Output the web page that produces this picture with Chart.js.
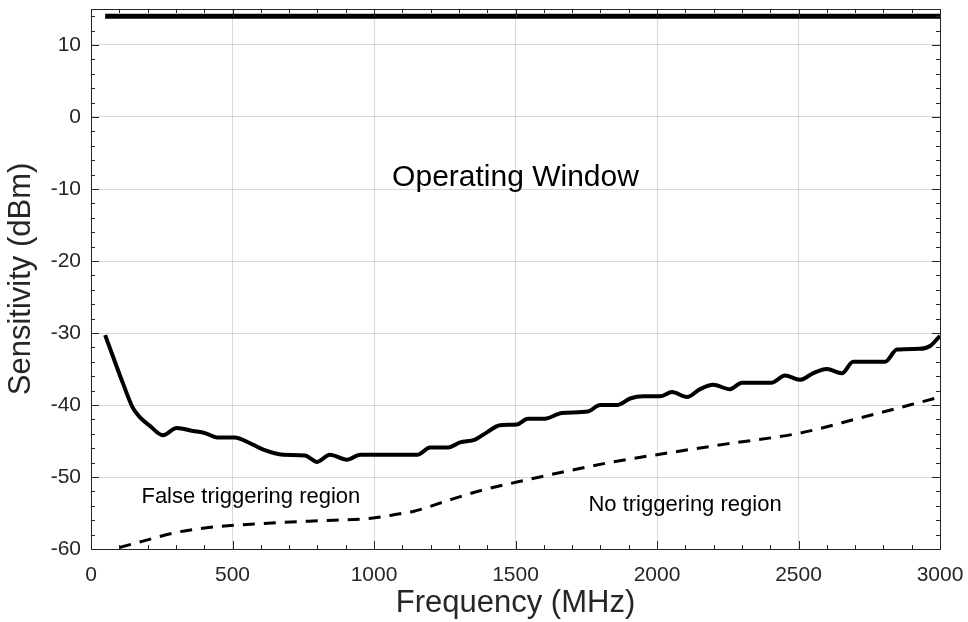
<!DOCTYPE html>
<html lang="en">

<head>
  <meta charset="UTF-8" />
  <title>Sensitivity vs Frequency</title>
  <script src="https://cdn.jsdelivr.net/npm/chart.js@4.4.1/dist/chart.umd.min.js"></script>
  <style>
    body {
      margin: 0;
      background: #ffffff;
    }

    .chart-wrapper {
      width: 968px;
      height: 622px;
      position: relative;
    }
  </style>
</head>

<body>
  <div class="chart-wrapper">
    <canvas id="sens" width="968" height="622"></canvas>
  </div>
  <script>
    // upper limit line
    const topFreq = [50, 3000];
    const topSens = [14, 14];

    // measured sensitivity (solid)
    const solidFreq = [50, 78, 113, 148, 175, 208, 254, 303, 360, 403, 445, 509, 551, 609, 679, 756, 799, 844, 904, 951,
      1000, 1092, 1155, 1198, 1262, 1304, 1357, 1399, 1445, 1505, 1544, 1604, 1664, 1756, 1799, 1859, 1905, 1951,
      2011, 2053, 2106, 2152, 2198, 2258, 2300, 2406, 2452, 2505, 2551, 2600, 2653, 2693, 2806, 2848, 2929, 2965, 3000];
    const solidSens = [-30.3, -33.3, -37, -40.4, -41.8, -42.9, -44.2, -43.2, -43.6, -43.9, -44.5, -44.5, -45.1, -46.2, -46.9, -47, -47.9, -46.9, -47.6, -46.9,
      -46.9, -46.9, -46.9, -45.9, -45.9, -45.2, -44.8, -43.8, -42.8, -42.7, -41.9, -41.9, -41.1, -40.9, -40, -40, -39.1, -38.8,
      -38.8, -38.2, -38.9, -37.8, -37.2, -37.8, -36.9, -36.9, -35.9, -36.5, -35.6, -35, -35.6, -34, -34, -32.3, -32.2, -31.8, -30.4];

    // lower boundary (dashed)
    const dashFreq = [100, 184, 314, 445, 551, 785, 997, 1092, 1138, 1258, 1375, 1505, 1668, 1845, 2000, 2247, 2505, 2717, 2990];
    const dashSens = [-59.8, -58.9, -57.6, -56.9, -56.6, -56.1, -55.7, -55.1, -54.8, -53.3, -51.9, -50.7, -49.3, -47.9, -46.9, -45.4, -43.9, -41.8, -39];

    // region labels
    const noteText = ["Operating Window", "False triggering region", "No triggering region"];
    const noteFreq = [1500, 565, 2099];
    const noteSens = [-8.5, -52.8, -53.9];

    const FONT = "Arial, 'Liberation Sans', Helvetica, sans-serif";
    const INK = "#262626";

    const toXY = (xs, ys) => xs.map((x, i) => ({ x: x, y: ys[i] }));

    // MATLAB-like box with inward major/minor ticks, plus text labels
    const boxPlugin = {
      id: "boxTicks",
      afterDatasetsDraw(chart) {
        const { ctx, chartArea: a, scales: { x, y } } = chart;
        ctx.save();
        ctx.strokeStyle = INK;
        ctx.lineWidth = 1;
        ctx.beginPath();
        for (let f = 0; f <= 3000; f += 100) {
          const px = Math.round(x.getPixelForValue(f)) + 0.5;
          const len = f % 500 === 0 ? 8 : 4;
          ctx.moveTo(px, a.bottom); ctx.lineTo(px, a.bottom - len);
          ctx.moveTo(px, a.top); ctx.lineTo(px, a.top + len);
        }
        for (let s = -60; s <= 15; s += 2) {
          const py = Math.round(y.getPixelForValue(s)) + 0.5;
          const len = s % 10 === 0 ? 8 : 4;
          ctx.moveTo(a.left, py); ctx.lineTo(a.left + len, py);
          ctx.moveTo(a.right, py); ctx.lineTo(a.right - len, py);
        }
        ctx.stroke();
        ctx.strokeRect(Math.round(a.left) + 0.5, Math.round(a.top) + 0.5,
          Math.round(a.right - a.left), Math.round(a.bottom - a.top));

        ctx.fillStyle = "#000";
        ctx.textAlign = "center";
        ctx.textBaseline = "middle";
        noteText.forEach((t, i) => {
          ctx.font = (i === 0 ? "30px " : "22px ") + FONT;
          ctx.fillText(t, x.getPixelForValue(noteFreq[i]), y.getPixelForValue(noteSens[i]));
        });
        ctx.restore();
      }
    };

    new Chart(document.getElementById("sens"), {
      type: "line",
      data: {
        datasets: [{
          label: "Upper limit",
          data: toXY(topFreq, topSens),
          borderColor: "#000",
          borderWidth: 5,
          pointRadius: 0
        }, {
          label: "Sensitivity",
          data: toXY(solidFreq, solidSens),
          borderColor: "#000",
          borderWidth: 4,
          pointRadius: 0,
          cubicInterpolationMode: "monotone"
        }, {
          label: "Boundary",
          data: toXY(dashFreq, dashSens),
          borderColor: "#000",
          borderWidth: 3,
          borderDash: [12, 9],
          pointRadius: 0,
          cubicInterpolationMode: "monotone"
        }]
      },
      options: {
        responsive: false,
        animation: false,
        layout: {
          padding: { top: 9, right: 28, bottom: 0, left: 0 }
        },
        plugins: {
          legend: { display: false },
          tooltip: { enabled: false }
        },
        scales: {
          x: {
            type: "linear",
            min: 0,
            max: 3000,
            afterFit: s => { s.height = 73; s.paddingLeft = 0; s.paddingRight = 0; },
            ticks: {
              stepSize: 500,
              padding: 14,
              color: INK,
              font: { family: FONT, size: 21 },
              callback: v => String(v)
            },
            grid: { color: "rgba(0,0,0,0.15)", drawTicks: false },
            border: { display: false },
            title: {
              display: true,
              text: "Frequency (MHz)",
              color: INK,
              font: { family: FONT, size: 31 },
              padding: { top: 0, bottom: 0 }
            }
          },
          y: {
            min: -60,
            max: 15,
            afterFit: s => { s.width = 91; s.paddingTop = 0; s.paddingBottom = 0; },
            afterBuildTicks: s => { s.ticks = s.ticks.filter(t => t.value <= 10); },
            ticks: {
              stepSize: 10,
              padding: 10,
              color: INK,
              font: { family: FONT, size: 21 },
              callback: v => String(v)
            },
            grid: { color: "rgba(0,0,0,0.15)", drawTicks: false },
            border: { display: false },
            title: {
              display: true,
              text: "Sensitivity (dBm)",
              color: INK,
              font: { family: FONT, size: 31 },
              padding: { top: 3, bottom: 0 }
            }
          }
        }
      },
      plugins: [boxPlugin]
    });
  </script>
</body>

</html>
